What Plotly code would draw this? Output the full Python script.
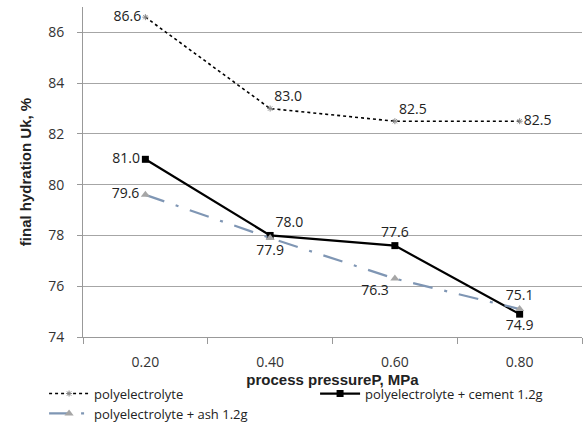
import plotly.graph_objects as go

categories = ["0.20", "0.40", "0.60", "0.80"]
poly = [86.6, 83.0, 82.5, 82.5]
cement = [81.0, 78.0, 77.6, 74.9]
ash = [79.6, 77.9, 76.3, 75.1]
y_ticks = [74, 76, 78, 80, 82, 84, 86]

xs = list(range(len(categories)))
font = "Open Sans"
lblfont = dict(family=font, size=14, color="#222")

fig = go.Figure()
fig.add_trace(go.Scatter(
    x=xs, y=poly, name="polyelectrolyte", mode="lines+markers+text",
    line=dict(color="black", width=1.6, dash="dot"),
    marker=dict(symbol="asterisk-open", size=5, color="#888", line=dict(width=1, color="#888")),
    text=[f"{v:.1f}" for v in poly],
    textposition=["middle left", "top right", "top right", "middle right"],
    textfont=lblfont,
))
fig.add_trace(go.Scatter(
    x=xs, y=cement, name="polyelectrolyte + cement 1.2g", mode="lines+markers+text",
    line=dict(color="black", width=2.2),
    marker=dict(symbol="square", size=7, color="black"),
    text=[f"{v:.1f}" for v in cement],
    textposition=["middle left", "top right", "top center", "bottom center"],
    textfont=lblfont,
))
fig.add_trace(go.Scatter(
    x=xs, y=ash, name="polyelectrolyte + ash 1.2g", mode="lines+markers+text",
    line=dict(color="#7F96B4", width=2.2, dash="20px,12px,3px,12px"),
    marker=dict(symbol="triangle-up", size=8, color="#A6A6A6"),
    text=[f"{v:.1f}" for v in ash],
    textposition=["middle left", "bottom center", "bottom left", "top center"],
    textfont=lblfont,
))

fig.update_layout(
    width=583, height=423,
    margin=dict(l=83, r=1, t=7, b=86, autoexpand=False),
    plot_bgcolor="white", paper_bgcolor="white",
    font=dict(family=font, size=14, color="#333"),
    showlegend=True,
    legend=dict(orientation="h", x=-0.078, xanchor="left",
                y=-0.126, yanchor="top",
                entrywidth=216, entrywidthmode="pixels",
                font=dict(family=font, size=13, color="#222"),
                tracegroupgap=0, itemwidth=40),
)
fig.update_xaxes(
    range=[-0.5, 3.5], tickmode="array", tickvals=xs, ticktext=categories,
    showgrid=False, showline=True, linecolor="#999", linewidth=1,
    ticks="", zeroline=False, ticklabelstandoff=12,
    title=dict(text="<b>process pressureP, MPa</b>", font=dict(family="Liberation Sans", size=15, color="#222"), standoff=0),
    tickfont=dict(family=font, size=14, color="#333"),
)
fig.update_xaxes(minor=dict(tickmode="array", tickvals=[-0.5, 0.5, 1.5, 2.5, 3.5], ticks="outside", ticklen=6, tickcolor="#999", showgrid=False))
fig.update_yaxes(
    range=[74, 87], tickmode="array", tickvals=y_ticks,
    showgrid=True, gridcolor="#A6A6A6", gridwidth=1,
    showline=True, linecolor="#999", linewidth=1,
    ticks="outside", ticklen=5, tickcolor="#999", zeroline=False, ticklabelstandoff=10,
    title=dict(text="<b>final hydration Uk, %</b>", font=dict(family="Liberation Sans", size=15, color="#222"), standoff=12),
    tickfont=dict(family=font, size=14, color="#333"),
)

fig.write_html("out.html")
